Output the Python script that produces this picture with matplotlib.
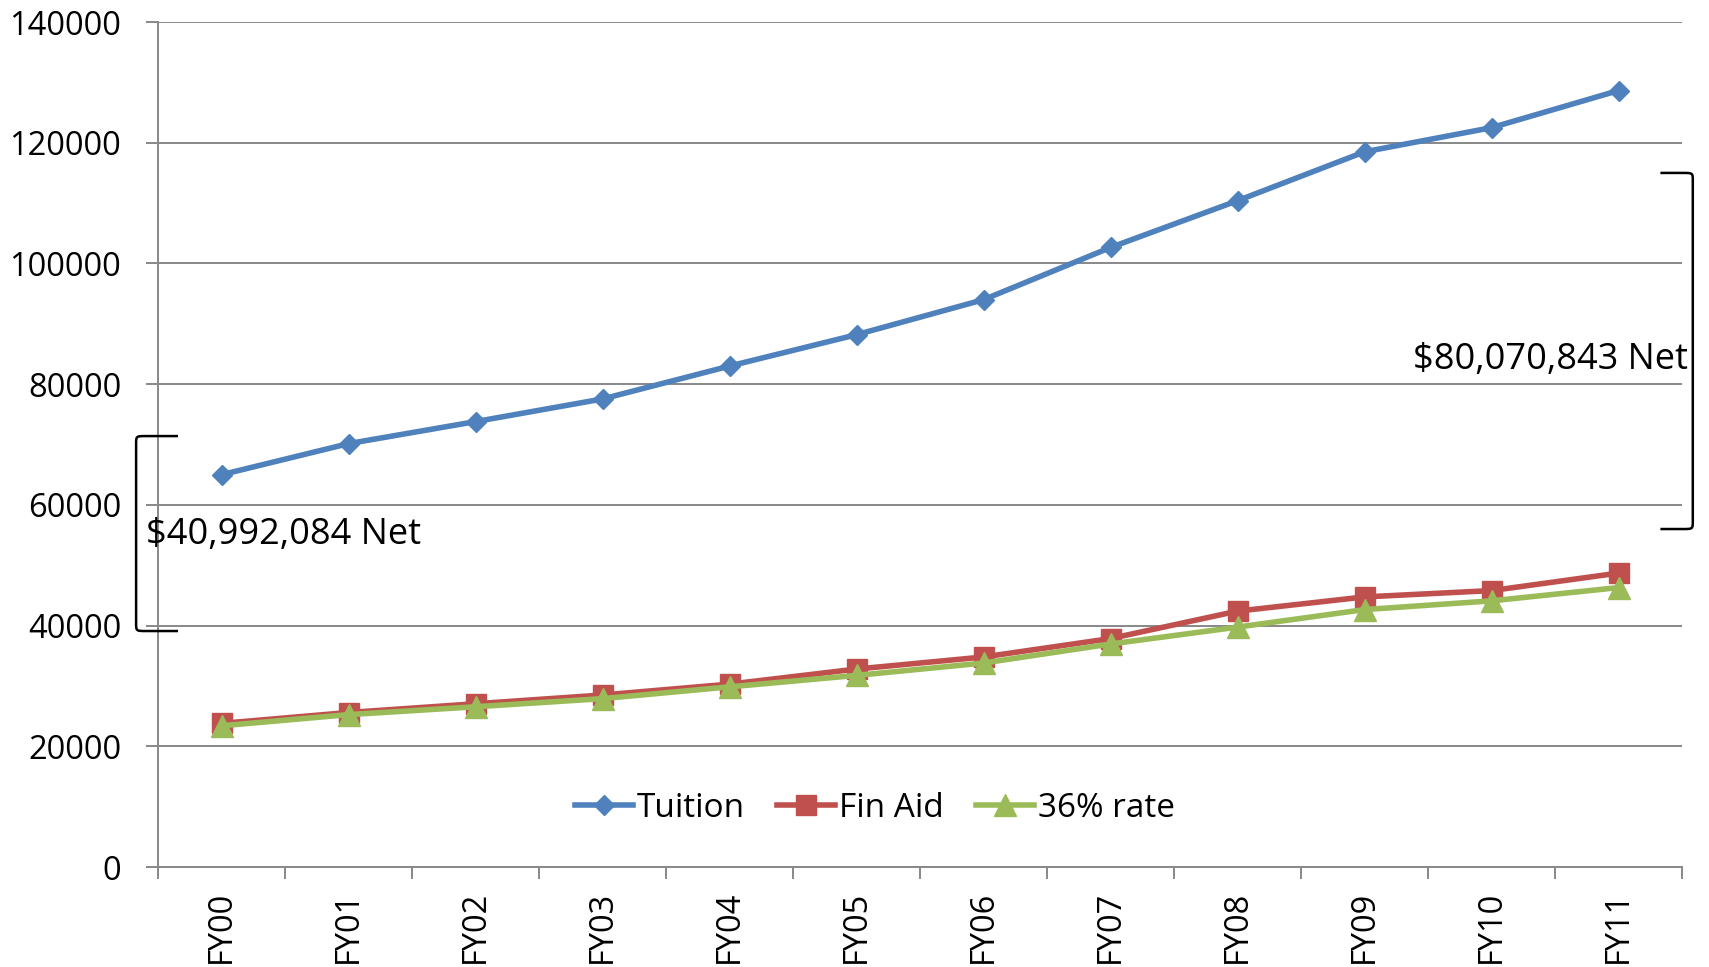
import matplotlib
matplotlib.use("Agg")
import matplotlib.pyplot as plt
from matplotlib.path import Path
from matplotlib.patches import PathPatch
import numpy as np

# Fiscal years and dollar series (thousands)
years = ["FY00", "FY01", "FY02", "FY03", "FY04", "FY05",
         "FY06", "FY07", "FY08", "FY09", "FY10", "FY11"]
tuition = [65000, 70150, 73800, 77550, 83000, 88200,
           94000, 102650, 110400, 118500, 122500, 128650]
fin_aid = [23800, 25600, 27050, 28500, 30300, 32800,
           34800, 37850, 42400, 44750, 45800, 48700]
rate_36 = [23400, 25250, 26550, 27900, 29850, 31750,
           33800, 36950, 39750, 42650, 44100, 46300]
net_start_label = "$40,992,084 Net"
net_end_label = "$80,070,843 Net"

BLUE = "#4F81BD"
RED = "#C0504D"
GREEN = "#9BBB59"
GRID = "#888888"

plt.rcParams["font.family"] = ["Open Sans", "DejaVu Sans"]

fig = plt.figure(figsize=(17.09, 9.67), dpi=100)
ax = fig.add_axes([0.0925, 0.1034, 0.8917, 0.8738])

x = np.arange(len(years))
ax.plot(x, tuition, color=BLUE, lw=4, marker="D", ms=10.5, label="Tuition", zorder=3)
ax.plot(x, fin_aid, color=RED, lw=4, marker="s", ms=15, label="Fin Aid", zorder=4)
ax.plot(x, rate_36, color=GREEN, lw=4, marker="^", ms=16, label="36% rate", zorder=5)

ax.set_xlim(-0.5, len(years) - 0.5)
ax.set_ylim(0, 140000)
ax.set_yticks(np.arange(0, 140001, 20000))
ax.yaxis.grid(True, color=GRID, lw=1.4)
ax.set_axisbelow(True)
ax.tick_params(axis="y", length=8.5, width=1.4, color=GRID, pad=18, labelsize=23.5)

# category boundaries carry the tick marks, labels sit at the centres
ax.set_xticks(np.arange(-0.5, len(years), 1.0))
ax.set_xticklabels([])
ax.set_xticks(x, minor=True)
ax.set_xticklabels(years, minor=True, rotation=90, fontsize=23.5)
ax.tick_params(axis="x", which="major", length=8.5, width=1.4, color=GRID)
ax.tick_params(axis="x", which="minor", length=0, pad=17)

for side in ("top", "right"):
    ax.spines[side].set_visible(False)
for side in ("left", "bottom"):
    ax.spines[side].set_color(GRID)
    ax.spines[side].set_linewidth(1.4)

leg = fig.legend(loc="center", bbox_to_anchor=(0.512, 0.1644), ncol=3, frameon=False,
                 fontsize=24, handlelength=1.75, handletextpad=0.12, columnspacing=0.95,
                 borderpad=0)


def bracket(ax, x_tip, x_spine, y_top, y_bot, rx, ry):
    """Square bracket with rounded corners, opening towards x_tip."""
    sgn = 1 if x_tip > x_spine else -1
    verts = [
        (x_tip, y_top),
        (x_spine + sgn * rx, y_top),
        (x_spine, y_top), (x_spine, y_top), (x_spine, y_top - ry),
        (x_spine, y_bot + ry),
        (x_spine, y_bot), (x_spine, y_bot), (x_spine + sgn * rx, y_bot),
        (x_tip, y_bot),
    ]
    codes = [Path.MOVETO, Path.LINETO,
             Path.CURVE4, Path.CURVE4, Path.CURVE4,
             Path.LINETO,
             Path.CURVE4, Path.CURVE4, Path.CURVE4,
             Path.LINETO]
    patch = PathPatch(Path(verts, codes), fill=False, lw=1.8, color="black",
                      clip_on=False, zorder=6)
    ax.add_patch(patch)


bracket(ax, -0.343, -0.673, 71400, 39100, 0.08, 1300)
bracket(ax, 11.33, 11.585, 115000, 56000, 0.08, 1300)

ax.text(-0.595, 55000, net_start_label, fontsize=26, ha="left", va="center",
        clip_on=False, zorder=7)
ax.text(11.545, 84000, net_end_label, fontsize=26, ha="right", va="center",
        clip_on=False, zorder=7)

fig.savefig("out.png", dpi=100, facecolor="white")
